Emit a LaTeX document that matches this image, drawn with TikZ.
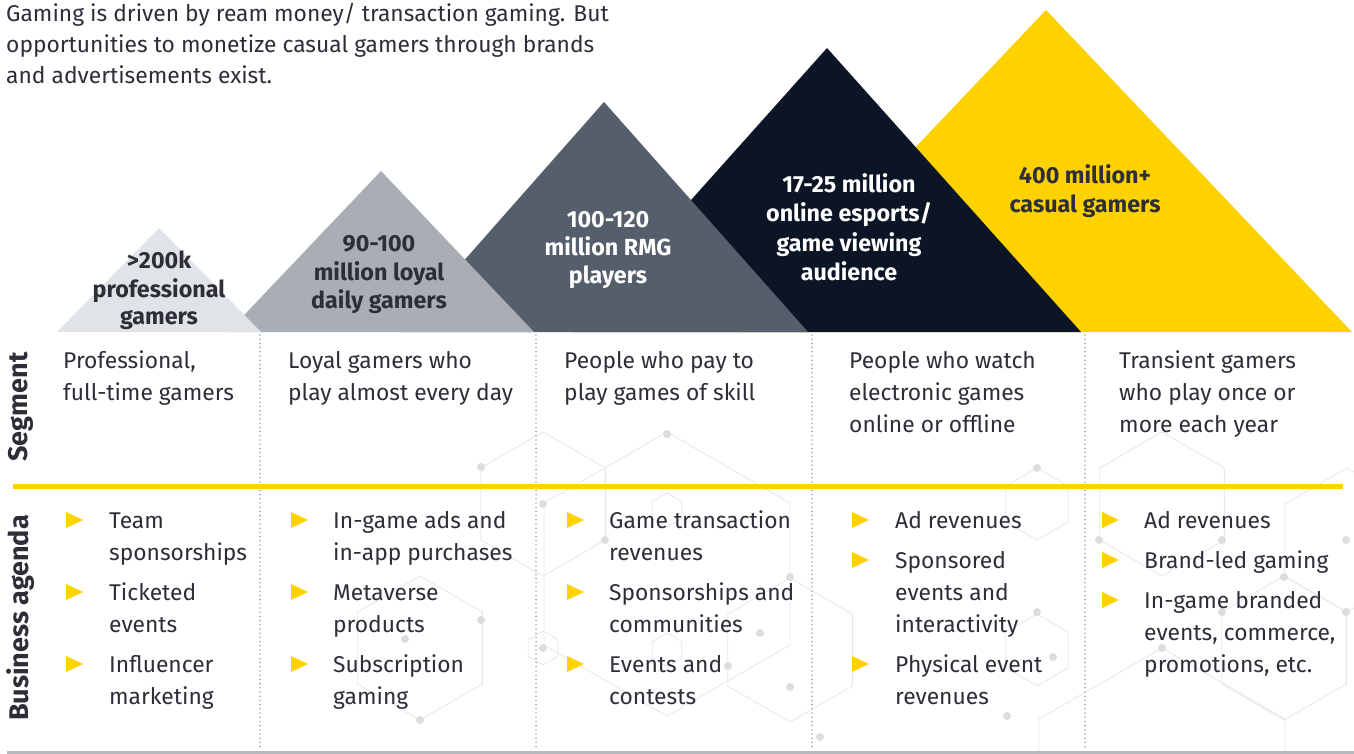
\documentclass[tikz,border=0pt]{standalone}
\usepackage{fontspec}
\setmainfont{Fira Sans}
\definecolor{txt}{HTML}{2E2E38}
\definecolor{tA}{HTML}{E1E4E6}
\definecolor{tB}{HTML}{A8AEB3}
\definecolor{tC}{HTML}{555F6B}
\definecolor{tD}{HTML}{0C1526}
\definecolor{tE}{HTML}{FED200}
\definecolor{yel}{HTML}{FFD200}
\definecolor{dotc}{HTML}{A3A8AD}
\definecolor{hexc}{HTML}{E6E7E9}
\definecolor{hexd}{HTML}{DCDDDF}
\newcommand{\bul}[2]{\fill[yel] (#1,#2-16) -- (#1,#2) -- (#1+17,#2-8) -- cycle;}
\newcommand{\hexg}[3]{\draw[hexl] (#1,#2) +(90:#3) -- +(30:#3) -- +(-30:#3) -- +(-90:#3) -- +(-150:#3) -- +(150:#3) -- cycle;}
\newcommand{\hdot}[2]{\fill[hexd] (#1,#2) circle (4pt);}
\begin{document}
\begin{tikzpicture}[x=1pt,y=-1pt,
  body/.style={anchor=base west, inner sep=0pt, font=\fontsize{22.8}{26}\selectfont, text=txt},
  lbl/.style={anchor=base, inner sep=0pt, font=\bfseries\fontsize{23.3}{26}\selectfont},
  side/.style={anchor=center, inner sep=0pt, rotate=90, font=\bfseries\fontsize{27}{30}\selectfont, text=txt},
  hexl/.style={draw=hexc, line width=0.8pt},
  dline/.style={draw=dotc, line width=1.8pt, line cap=round, dash pattern=on 0pt off 4.2pt}]
\useasboundingbox (0,0) rectangle (1354,754);
\fill[white] (0,0) rectangle (1354,754);

% background hexagon pattern
\hexg{667}{574}{142}
\hexg{543}{504}{72}
\hexg{420}{648}{72}
\hexg{790}{650}{72}
\hexg{1162}{504}{72}
\hexg{1037}{504}{36}
\hexg{1284}{648}{72}
\hexg{1162}{790}{142}
\hexg{543}{648}{17}
\hexg{667}{510}{17}
\hexg{667}{650}{17}
\hexg{1037}{650}{36}
\hexg{1347}{540}{72}
\hdot{543}{504}\hdot{481}{467}\hdot{605}{540}\hdot{420}{720}\hdot{405}{639}
\hdot{543}{648}\hdot{728}{666}\hdot{790}{687}\hdot{760}{633}\hdot{790}{577}
\hdot{1037}{468}\hdot{1099}{540}\hdot{1222}{540}\hdot{1284}{577}\hdot{1222}{612}
\hdot{1037}{612}\hdot{1053}{657}\hdot{1007}{716}\hdot{1162}{648}\hdot{820}{737}
\hdot{1346}{612}\hdot{1346}{540}\hdot{667}{434}\hdot{481}{620}

% triangles (right to left so the left ones are in front)
\fill[tE] (740,332) -- (1046,10) -- (1352,332) -- cycle;
\fill[tD] (573,332) -- (827,48) -- (1081,332) -- cycle;
\fill[tC] (401,332) -- (604,102) -- (808,332) -- cycle;
\fill[tB] (228,332) -- (381,171) -- (534,332) -- cycle;
\fill[tA] (57,332) -- (159,228) -- (261,332) -- cycle;

% triangle labels
\node[lbl, text=txt] (a1) at (159,268) {>200k};
\node[lbl, text=txt] (a2) at (159,297) {professional};
\node[lbl, text=txt] (a3) at (159,324) {gamers};
\node[lbl, text=txt] (b1) at (379,251) {90-100};
\node[lbl, text=txt] (b2) at (379,280) {million loyal};
\node[lbl, text=txt] (b3) at (379,308) {daily gamers};
\node[lbl, text=white] (c1) at (608,227) {100-120};
\node[lbl, text=white] (c2) at (608,255) {million RMG};
\node[lbl, text=white] (c3) at (608,283) {players};
\node[lbl, text=white] (d1) at (849,193) {17-25 million};
\node[lbl, text=white] (d2) at (849,222) {online esports/};
\node[lbl, text=white] (d3) at (849,251) {game viewing};
\node[lbl, text=white] (d4) at (849,280) {audience};
\node[lbl, text=txt] (e1) at (1085,184) {400 million+};
\node[lbl, text=txt] (e2) at (1085,213) {casual gamers};

% intro text
\node[body] (i1) at (6,22) {Gaming is driven by ream money/ transaction gaming. But};
\node[body] (i2) at (6,53) {opportunities to monetize casual gamers through brands};
\node[body] (i3) at (6,84) {and advertisements exist.};

% separators
\draw[dline] (260,335) -- (260,748);
\draw[dline] (536,335) -- (536,748);
\draw[dline] (812,335) -- (812,748);
\draw[dline] (1085,335) -- (1085,748);
\draw[yel, line width=5pt] (13,486) -- (1343,486);
\draw[draw=dotc!80, line width=3pt] (7,752) -- (1354,752);

% side labels
\node[side] (seg) at (21,407) {Segment};
\node[side] (bus) at (21,618) {Business agenda};

% segment texts
\node[body] (s11) at (63,368) {Professional,};
\node[body] (s12) at (63,400) {full-time gamers};
\node[body] (s21) at (288,368) {Loyal gamers who};
\node[body] (s22) at (288,400) {play almost every day};
\node[body] (s31) at (564,368) {People who pay to};
\node[body] (s32) at (564,400) {play games of skill};
\node[body] (s41) at (849,368) {People who watch};
\node[body] (s42) at (849,400) {electronic games};
\node[body] (s43) at (849,432) {online or offline};
\node[body] (s51) at (1119,368) {Transient gamers};
\node[body] (s52) at (1119,400) {who play once or};
\node[body] (s53) at (1119,432) {more each year};

% business agenda column 1
\bul{66}{528}\bul{66}{600}\bul{66}{672}
\node[body] (p11) at (109,528) {Team};
\node[body] (p12) at (109,560) {sponsorships};
\node[body] (p13) at (109,600) {Ticketed};
\node[body] (p14) at (109,632) {events};
\node[body] (p15) at (109,672) {Influencer};
\node[body] (p16) at (109,704) {marketing};
% column 2
\bul{291}{528}\bul{291}{600}\bul{291}{672}
\node[body] (p21) at (333,528) {In-game ads and};
\node[body] (p22) at (333,560) {in-app purchases};
\node[body] (p23) at (333,600) {Metaverse};
\node[body] (p24) at (333,632) {products};
\node[body] (p25) at (333,672) {Subscription};
\node[body] (p26) at (333,704) {gaming};
% column 3
\bul{567}{528}\bul{567}{600}\bul{567}{672}
\node[body] (p31) at (609,528) {Game transaction};
\node[body] (p32) at (609,560) {revenues};
\node[body] (p33) at (609,600) {Sponsorships and};
\node[body] (p34) at (609,632) {communities};
\node[body] (p35) at (609,672) {Events and};
\node[body] (p36) at (609,704) {contests};
% column 4
\bul{852}{528}\bul{852}{568}\bul{852}{672}
\node[body] (p41) at (895,528) {Ad revenues};
\node[body] (p42) at (895,568) {Sponsored};
\node[body] (p43) at (895,600) {events and};
\node[body] (p44) at (895,632) {interactivity};
\node[body] (p45) at (895,672) {Physical event};
\node[body] (p46) at (895,704) {revenues};
% column 5
\bul{1102}{528}\bul{1102}{568}\bul{1102}{608}
\node[body] (p51) at (1144,528) {Ad revenues};
\node[body] (p52) at (1144,568) {Brand-led gaming};
\node[body] (p53) at (1144,608) {In-game branded};
\node[body] (p54) at (1144,640) {events, commerce,};
\node[body] (p55) at (1144,672) {promotions, etc.};
\end{tikzpicture}
\end{document}
